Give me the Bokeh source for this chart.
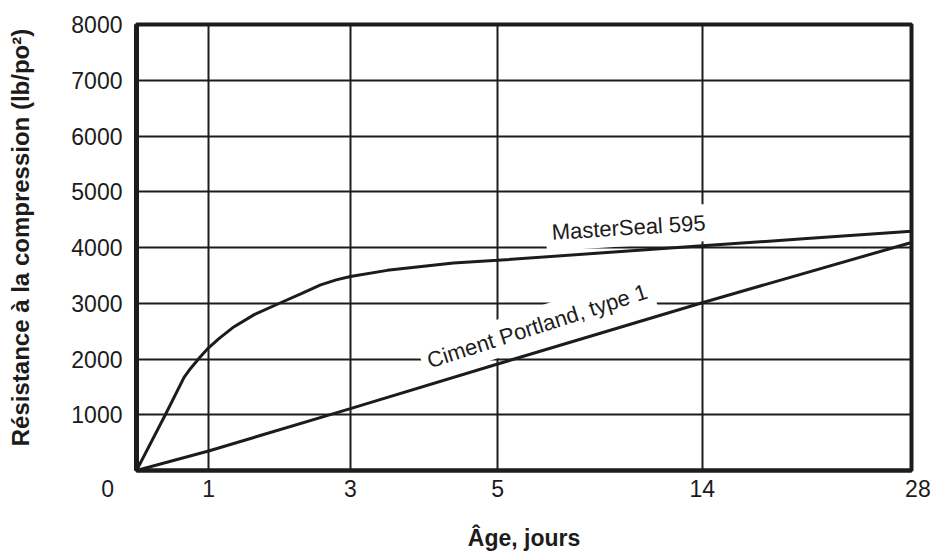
import math
import numpy as np
from bokeh.plotting import figure
from bokeh.models import Range1d, FixedTicker, Label
from bokeh.embed import file_html
from bokeh.resources import INLINE

# ---- data ----
age_ticks = [0, 1, 3, 5, 14, 28]
age_tick_labels = ["0", "1", "3", "5", "14", "28"]
strength_ticks = [1000, 2000, 3000, 4000, 5000, 6000, 7000, 8000]

masterseal_age = [0, 0.4, 0.66, 0.75, 0.88, 1, 1.15, 1.36, 1.65, 2, 2.3, 2.58, 2.8, 3,
                  3.5, 4.4, 5, 9.5, 14, 21, 28]
masterseal_psi = [0, 1000, 1670, 1830, 2030, 2200, 2370, 2580, 2800, 3000, 3170, 3330, 3420, 3480,
                  3590, 3720, 3770, 3900, 4030, 4160, 4290]

portland_age = [0, 1, 3, 5, 14, 28]
portland_psi = [0, 350, 1110, 1910, 3010, 4090]

series_names = ["MasterSeal 595", "Ciment Portland, type 1"]
x_title = "Âge, jours"
y_title = "Résistance à la compression (lb/po²)"

# axis layout: non-linear spacing of the day scale
AXIS_POS = [0.0, 0.093, 0.276, 0.466, 0.730, 1.0]


def xpos(a):
    return np.interp(a, age_ticks, AXIS_POS)


FONT = "Liberation Sans"
INK = "#1c1c1c"
NB = "\u00a0"

p = figure(frame_width=775, frame_height=446, output_backend="svg", toolbar_location=None,
           x_range=Range1d(0, 1), y_range=Range1d(0, 8000),
           min_border_left=136, min_border_right=25, min_border_top=24, min_border_bottom=89)
p.background_fill_color = "white"
p.border_fill_color = "white"
p.outline_line_color = INK
p.outline_line_width = 4
p.outline_line_alpha = 1

# grid / ticks
tick_pos = [float(v) for v in xpos(age_ticks)]
p.xaxis.ticker = FixedTicker(ticks=tick_pos)
p.xgrid.ticker = FixedTicker(ticks=tick_pos[1:])
p.yaxis.ticker = FixedTicker(ticks=strength_ticks)
for g in (p.xgrid, p.ygrid):
    g.grid_line_color = INK
    g.grid_line_width = 2
    g.grid_line_alpha = 1

# axes
for ax in (p.xaxis, p.yaxis):
    ax.axis_line_color = INK
    ax.axis_line_width = 4
    ax.major_tick_line_color = None
    ax.minor_tick_line_color = None
    ax.major_tick_out = 0
    ax.major_tick_in = 0
    ax.major_label_text_font = FONT
    ax.major_label_text_font_size = "23px"
    ax.major_label_text_color = INK
    ax.axis_label_text_font = FONT
    ax.axis_label_text_font_style = "bold"
    ax.axis_label_text_color = INK
p.yaxis.axis_line_width = 5
p.xaxis.axis_label_text_font_size = "23px"
p.yaxis.axis_label_text_font_size = "24px"

overrides = {}
for pos, lab in zip(tick_pos, age_tick_labels):
    if lab == "0":
        overrides[pos] = lab + NB * 9      # origin label sits left of the corner
    elif lab == "28":
        overrides[pos] = NB * 2 + lab
    else:
        overrides[pos] = lab
p.xaxis.major_label_overrides = overrides
p.xaxis.major_label_standoff = 5
p.yaxis.major_label_standoff = 14

p.xaxis.axis_label = x_title
p.xaxis.axis_label_standoff = 20
p.yaxis.axis_label = NB * 3 + y_title
p.yaxis.axis_label_standoff = 34

# curves
p.line(xpos(masterseal_age), masterseal_psi, line_color=INK, line_width=3)
p.line(xpos(portland_age), portland_psi, line_color=INK, line_width=3)

# curve labels with white background (cut the grid behind them)
lab1 = Label(x=0.635, y=4359, text=series_names[0], angle=math.radians(3.6),
             text_align="center", text_baseline="middle",
             text_font=FONT, text_font_size="22px", text_color=INK,
             background_fill_color="white", padding=6, level="underlay")
lab2 = Label(x=0.517, y=2590, text=series_names[1], angle=math.radians(17.8),
             text_align="center", text_baseline="middle",
             text_font=FONT, text_font_size="22px", text_color=INK,
             background_fill_color="white", padding=6, level="underlay")
p.add_layout(lab1)
p.add_layout(lab2)

open("out.html", "w").write(file_html(p, INLINE))
